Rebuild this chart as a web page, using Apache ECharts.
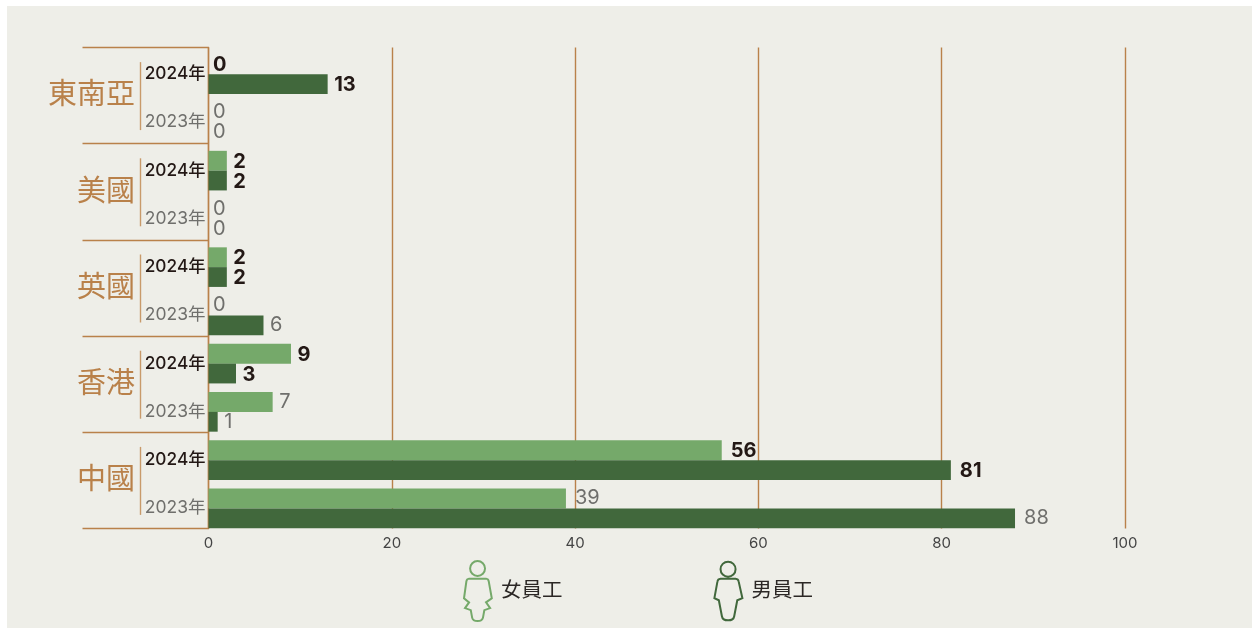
<!DOCTYPE html>
<html>
<head>
<meta charset="utf-8">
<style>
html, body { margin: 0; height: 100%; background: #fff; overflow: hidden; }
#panel { position: absolute; left: 7px; top: 6px; right: 0; bottom: 0; background: #eeeee8; }
#chart { position: absolute; left: 0; top: 0; width: 1252px; height: 628px; }
</style>
</head>
<body>
<div id="panel"></div>
<div id="chart"></div>
<script src="https://cdn.jsdelivr.net/npm/echarts@6/dist/echarts.min.js"></script>
<script>
const regions = ['東南亞', '美國', '英國', '香港', '中國']
const years = ['2024年', '2023年', '2024年', '2023年', '2024年', '2023年', '2024年', '2023年', '2024年', '2023年']
const female = [0, 0, 2, 0, 2, 0, 9, 7, 56, 39]
const male = [13, 0, 2, 0, 2, 6, 3, 1, 81, 88]
const xTicks = [0, 20, 40, 60, 80, 100]

const BROWN = '#b9814a'
const LIGHT = '#75a96a'
const DARK = '#41683c'
const FONT = 'Inter, "Noto Sans CJK TC", sans-serif'

// 圖例人形（女 / 男）
const womanIcon = 'path://M132 145A22 22 0 1 1 88 145A22 22 0 1 1 132 145ZM85 175L135 175Q142 176 143 183L152 233L135 245L147 262L130 268L126 290Q124 300 110 300Q96 300 94 290L90 268L73 262L85 245L70 233L77 183Q78 176 85 175Z'
const manIcon = 'path://M882 150A22 22 0 1 1 838 150A22 22 0 1 1 882 150ZM838 178L882 178Q890 179 891 186L902 235L887 241L878 288Q876 300 860 300Q844 300 842 288L833 241L820 235L829 186Q830 179 838 178Z'

// 數字與長條的間距：0 貼近軸線，長條越長離得越遠
const labelGap = (v) => (v === 0 ? 4.5 : v >= 30 ? 9 : 6.5)

const barLabel = () => ({
  show: true,
  position: 'right',
  fontFamily: FONT,
  formatter: (p) => (years[p.dataIndex] === '2024年' ? `{now|${p.value}}` : `{old|${p.value}}`),
  rich: {
    now: { fontSize: 20, fontWeight: 700, color: '#231815', fontFamily: FONT, padding: [2, 0, 0, 0] },
    old: { fontSize: 20, color: '#6f6f6c', fontFamily: FONT },
  },
})

const barData = (values) => values.map((v) => ({ value: v, label: { distance: labelGap(v) } }))

const chart = echarts.init(document.getElementById('chart'), null, { renderer: 'canvas' })

chart.setOption({
  backgroundColor: 'transparent',
  animation: false,
  textStyle: { fontFamily: FONT },
  legend: {
    left: 463,
    top: 560,
    padding: 0,
    itemWidth: 28,
    itemHeight: 60,
    itemGap: 151,
    selectedMode: false,
    textStyle: { fontSize: 20.5, color: '#2b2725', fontFamily: FONT, padding: [0, 0, 5, 4] },
    data: [
      { name: '女員工', icon: womanIcon, itemStyle: { color: 'transparent', borderColor: LIGHT, borderWidth: 2 } },
      { name: '男員工', icon: manIcon, itemStyle: { color: 'transparent', borderColor: DARK, borderWidth: 2 } },
    ],
  },
  grid: [
    { left: 208.5, top: 47.5, width: 916.5, height: 481, containLabel: false },
    { left: 208.5, top: 50, width: 916.5, height: 482.5, containLabel: false }, // 長條比分組線略往下
  ],
  xAxis: [
    {
      gridIndex: 0,
      type: 'value',
      min: xTicks[0],
      max: xTicks[xTicks.length - 1],
      interval: xTicks[1] - xTicks[0],
      axisLine: { show: false },
      axisTick: { show: false },
      axisLabel: { fontSize: 15, color: '#444', margin: 7, hideOverlap: false, fontFamily: FONT },
      splitLine: { show: true, lineStyle: { color: BROWN, width: 1.4 } },
    },
    {
      gridIndex: 1,
      type: 'value',
      min: xTicks[0],
      max: xTicks[xTicks.length - 1],
      show: false,
      splitLine: { show: false },
    },
  ],
  yAxis: [
    {
      gridIndex: 0,
      type: 'category',
      inverse: true,
      data: regions,
      axisLine: { show: true, lineStyle: { color: BROWN, width: 1.4 } },
      axisTick: { show: true, length: 126, interval: 0, lineStyle: { color: BROWN, width: 1.4 } },
      axisLabel: { fontSize: 29, color: BROWN, margin: 73.5, interval: 0, fontFamily: FONT },
      splitLine: { show: false },
    },
    {
      gridIndex: 1,
      type: 'category',
      inverse: true,
      data: years,
      axisLine: { show: false },
      axisTick: { show: false },
      axisLabel: {
        interval: 0,
        margin: 3,
        formatter: (v) => (v === '2024年' ? `{now|${v}}` : `{old|${v}}`),
        rich: {
          now: { fontSize: 17.3, fontWeight: 500, color: '#231815', fontFamily: FONT },
          old: { fontSize: 17.5, color: '#6f6f6c', fontFamily: FONT, padding: [0, 0, 1, 0] },
        },
      },
    },
  ],
  series: [
    {
      name: '女員工',
      type: 'bar',
      xAxisIndex: 1,
      yAxisIndex: 1,
      data: barData(female),
      barWidth: 19.8,
      barGap: 0,
      itemStyle: { color: LIGHT },
      label: barLabel(),
    },
    {
      name: '男員工',
      type: 'bar',
      xAxisIndex: 1,
      yAxisIndex: 1,
      data: barData(male),
      barWidth: 19.8,
      barGap: 0,
      itemStyle: { color: DARK },
      label: barLabel(),
    },
    {
      // 地區與年份之間的短豎線
      type: 'custom',
      xAxisIndex: 0,
      yAxisIndex: 0,
      silent: true,
      clip: false,
      data: regions.map((r, i) => [0, i]),
      renderItem: (params, api) => {
        const p = api.coord([api.value(0), api.value(1)])
        return {
          type: 'line',
          shape: { x1: p[0] - 68, y1: p[1] - 33.5, x2: p[0] - 68, y2: p[1] + 34.5 },
          style: { stroke: '#c89a6a', lineWidth: 1.4 },
        }
      },
    },
  ],
})
</script>
</body>
</html>
